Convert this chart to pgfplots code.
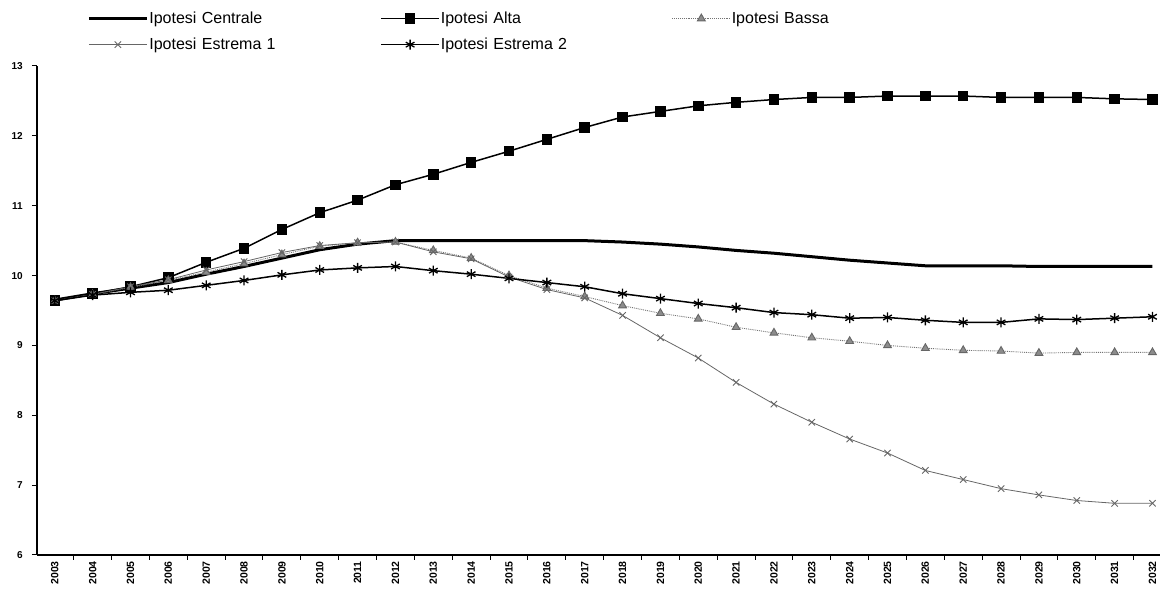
\documentclass[border=0pt]{standalone}
\usepackage{fontspec}
\setmainfont{Liberation Sans}
\usepackage{pgfplots}
\usepackage{pgfplotstable}
\pgfplotsset{compat=1.18}
\pgfplotstableread{
x C A B E1 E2
0 9.65 9.64 9.64 9.64 9.64
1 9.74 9.74 9.73 9.73 9.72
2 9.82 9.84 9.83 9.84 9.76
3 9.90 9.97 9.93 9.94 9.79
4 10.02 10.19 10.05 10.08 9.86
5 10.13 10.39 10.17 10.20 9.93
6 10.25 10.66 10.30 10.33 10.01
7 10.37 10.90 10.42 10.43 10.08
8 10.45 11.08 10.47 10.47 10.11
9 10.50 11.30 10.48 10.48 10.13
10 10.50 11.45 10.36 10.34 10.07
11 10.50 11.62 10.25 10.24 10.02
12 10.50 11.78 10.00 9.98 9.96
13 10.50 11.95 9.82 9.80 9.90
14 10.50 12.12 9.70 9.68 9.84
15 10.48 12.27 9.57 9.43 9.74
16 10.45 12.35 9.46 9.11 9.67
17 10.41 12.43 9.38 8.82 9.60
18 10.36 12.48 9.26 8.47 9.54
19 10.32 12.52 9.18 8.16 9.47
20 10.27 12.55 9.11 7.90 9.44
21 10.22 12.55 9.06 7.66 9.39
22 10.18 12.57 9.00 7.46 9.40
23 10.14 12.57 8.96 7.21 9.36
24 10.14 12.57 8.93 7.08 9.33
25 10.14 12.55 8.92 6.95 9.33
26 10.13 12.55 8.89 6.86 9.38
27 10.13 12.55 8.90 6.78 9.37
28 10.13 12.53 8.90 6.74 9.39
29 10.13 12.52 8.90 6.74 9.41
}\data
\begin{document}
\begin{tikzpicture}[x=1pt,y=1pt]
\useasboundingbox (-37,-36) rectangle (1125,555);
\begin{axis}[
  at={(0,0)}, anchor=south west,
  scale only axis, width=1123pt, height=489pt,
  xmin=-0.47, xmax=29.2, ymin=6, ymax=13,
  axis x line*=bottom, axis y line*=left,
  axis line style={line width=1.5pt,-},
  xtick={0,...,29},
  xticklabels={2003,2004,2005,2006,2007,2008,2009,2010,2011,2012,2013,2014,2015,2016,2017,2018,2019,2020,2021,2022,2023,2024,2025,2026,2027,2028,2029,2030,2031,2032},
  minor xtick={0.5,1.5,...,28.5},
  major x tick style={draw=none},
  minor x tick style={black,line width=1pt},
  tick align=outside,
  major tick length=5pt, minor tick length=5pt,
  y tick style={black,line width=1pt},
  ytick={6,...,13},
  xticklabel style={rotate=90, anchor=east, font=\fontsize{10.5}{10.5}\selectfont\bfseries, inner sep=1pt},
  yticklabel style={font=\fontsize{10}{10}\selectfont\bfseries, inner sep=1pt, xshift=-8pt},
  /pgf/number format/assume math mode=true,
  legend columns=3,
  legend style={draw=none, fill=none, at={(0.042,1.119)}, anchor=north west,
    font=\fontsize{16}{16}\selectfont, row sep=9pt,
    nodes={text width=230pt, align=left, inner xsep=1pt},
    column sep=0pt},
  legend image code/.code={\draw[mark repeat=2,mark phase=2,#1] plot coordinates {(0pt,0pt) (29pt,0pt) (58pt,0pt)};},
]
\addplot[black, line width=3pt] table[x=x,y=C] {\data};
\addlegendentry{Ipotesi Centrale}
\addplot[black, line width=1.5pt, mark=square*, mark size=4.5pt, mark options={solid}] table[x=x,y=A] {\data};
\addlegendentry{Ipotesi Alta}
\addplot[black!55, line width=0.9pt, densely dotted, mark=triangle*, mark size=4.5pt, mark options={solid, fill=black!45, draw=black!60}] table[x=x,y=B] {\data};
\addlegendentry{Ipotesi Bassa}
\addplot[black!60, line width=0.8pt, mark=x, mark size=4.5pt, mark options={solid, line width=0.9pt}] table[x=x,y=E1] {\data};
\addlegendentry{Ipotesi Estrema 1}
\addplot[black, line width=1.5pt, mark=asterisk, mark size=5pt, mark options={solid, line width=1.3pt}] table[x=x,y=E2] {\data};
\addlegendentry{Ipotesi Estrema 2}
\end{axis}
\end{tikzpicture}
\end{document}
